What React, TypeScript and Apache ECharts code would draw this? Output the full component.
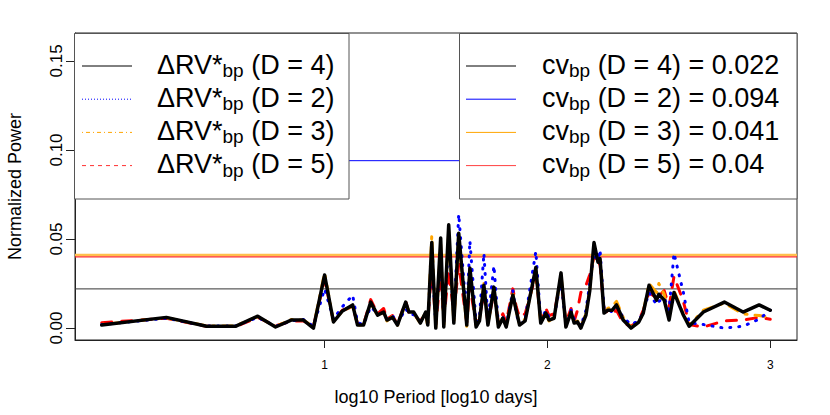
import React, { useEffect, useRef } from "react";
import * as echarts from "echarts";

const FONT = '"Liberation Sans", Arial, Helvetica, sans-serif';

// log10 period grid (x values)
const logPeriod = [
  0.0, 0.29, 0.47, 0.6, 0.7, 0.78, 0.85, 0.905, 0.95, 1.0,
  1.04, 1.08, 1.126, 1.148, 1.175, 1.207, 1.238, 1.265, 1.28, 1.305,
  1.327, 1.364, 1.378, 1.4, 1.43, 1.454, 1.463, 1.481, 1.499, 1.521,
  1.535, 1.557, 1.58, 1.602, 1.638, 1.652, 1.68, 1.695, 1.715, 1.733,
  1.76, 1.78, 1.8, 1.815, 1.845, 1.86, 1.875, 1.9, 1.948, 1.97,
  1.993, 2.007, 2.03, 2.061, 2.083, 2.106, 2.12, 2.135, 2.15, 2.173,
  2.19, 2.209, 2.227, 2.236, 2.254, 2.27, 2.29, 2.31, 2.34, 2.375,
  2.41, 2.43, 2.456, 2.49, 2.5, 2.524, 2.546, 2.568, 2.61, 2.636,
  2.7, 2.794, 2.878, 2.95, 3.0,
];

// Normalized power, D = 4 (black solid)
const powerD4 = [
  0.0017, 0.006, 0.001, 0.001, 0.0067, 0.0006, 0.0045, 0.0045, 0.0, 0.0298,
  0.0034, 0.0096, 0.013, 0.0017, 0.0017, 0.0146, 0.0073, 0.009, 0.0045, 0.006,
  0.0017, 0.0146, 0.009, 0.009, 0.0028, 0.009, 0.0017, 0.048, 0.0, 0.0506,
  0.0006, 0.058, 0.0028, 0.0533, 0.0017, 0.0337, 0.0006, 0.004, 0.024, 0.0017,
  0.023, 0.0006, 0.0056, 0.0006, 0.0185, 0.01, 0.0017, 0.004, 0.034, 0.0028,
  0.0084, 0.0045, 0.0055, 0.031, 0.0006, 0.009, 0.0028, 0.0035, 0.0, 0.0073,
  0.021, 0.048, 0.037, 0.039, 0.0084, 0.01, 0.01, 0.013, 0.0045, 0.0,
  0.0034, 0.0084, 0.024, 0.0157, 0.019, 0.0157, 0.0045, 0.02, 0.0073, 0.001,
  0.009, 0.0146, 0.009, 0.013, 0.01,
];

// D = 2 (blue dotted)
const powerD2 = [
  0.002, 0.0055, 0.0012, 0.0012, 0.006, 0.001, 0.004, 0.0048, 0.001, 0.022,
  0.005, 0.012, 0.0185, 0.003, 0.002, 0.012, 0.008, 0.0085, 0.005, 0.007,
  0.0025, 0.011, 0.008, 0.0075, 0.004, 0.008, 0.003, 0.038, 0.002, 0.042,
  0.003, 0.05, 0.006, 0.064, 0.005, 0.049, 0.003, 0.006, 0.042, 0.004,
  0.035, 0.002, 0.006, 0.001, 0.021, 0.008, 0.002, 0.005, 0.043, 0.004,
  0.01, 0.006, 0.006, 0.027, 0.001, 0.01, 0.005, 0.004, 0.001, 0.01,
  0.025, 0.042, 0.038, 0.044, 0.011, 0.011, 0.009, 0.012, 0.006, 0.002,
  0.004, 0.009, 0.02, 0.013, 0.015, 0.017, 0.01, 0.042, 0.02, 0.003,
  0.002, 0.0, 0.001, 0.005, 0.01,
];

// D = 3 (orange dot-dash)
const powerD3 = [
  0.002, 0.0058, 0.0012, 0.0012, 0.0065, 0.0008, 0.0048, 0.0046, 0.0005, 0.031,
  0.0035, 0.0095, 0.0125, 0.0015, 0.002, 0.014, 0.007, 0.0085, 0.004, 0.0065,
  0.0015, 0.014, 0.0095, 0.0085, 0.0025, 0.0095, 0.0005, 0.052, 0.0005, 0.047,
  0.001, 0.054, 0.003, 0.05, 0.001, 0.033, 0.001, 0.005, 0.025, 0.002,
  0.022, 0.001, 0.006, 0.001, 0.019, 0.0095, 0.002, 0.005, 0.033, 0.003,
  0.008, 0.004, 0.006, 0.03, 0.001, 0.0085, 0.003, 0.004, 0.001, 0.008,
  0.022, 0.044, 0.038, 0.042, 0.009, 0.011, 0.012, 0.015, 0.006, 0.0005,
  0.003, 0.009, 0.025, 0.02, 0.025, 0.019, 0.006, 0.021, 0.008, 0.0015,
  0.01, 0.014, 0.008, 0.007, 0.006,
];

// D = 5 (red dashed)
const powerD5 = [
  0.003, 0.0055, 0.001, 0.0008, 0.006, 0.0012, 0.004, 0.004, 0.001, 0.027,
  0.004, 0.01, 0.012, 0.0025, 0.002, 0.016, 0.008, 0.011, 0.005, 0.007,
  0.002, 0.015, 0.0085, 0.008, 0.0035, 0.0095, 0.003, 0.035, 0.002, 0.03,
  0.004, 0.033, 0.008, 0.036, 0.003, 0.024, 0.002, 0.006, 0.02, 0.003,
  0.02, 0.003, 0.008, 0.003, 0.022, 0.012, 0.006, 0.008, 0.03, 0.005,
  0.011, 0.007, 0.008, 0.028, 0.003, 0.011, 0.004, 0.01, 0.02, 0.024,
  0.03, 0.04, 0.035, 0.036, 0.01, 0.009, 0.008, 0.01, 0.003, 0.001,
  0.004, 0.01, 0.02, 0.017, 0.018, 0.021, 0.012, 0.029, 0.015, 0.002,
  0.0006, 0.004, 0.0045, 0.006, 0.005,
];

// threshold (cv) lines
const cvLabels = ["4", "2", "3", "5"];
const cvValues = [0.022, 0.094, 0.041, 0.04];
const cvTexts = ["0.022", "0.094", "0.041", "0.04"];
const cvColors = ["#333333", "#0000ff", "#ffbf4d", "#ff2a2a"];
const cvWidths = [1, 1, 2.5, 1.2];

const xTicks = [1, 2, 3];
const yTicks = [0, 0.05, 0.1, 0.15];
const X_MIN = -0.12;
const X_MAX = 3.12;

const seriesDefs = [
  { d: "5", ys: powerD5, color: "#ff0000", width: 3, dash: [10, 10] },
  { d: "3", ys: powerD3, color: "#ffa500", width: 3, dash: [2, 8, 10, 8] },
  { d: "2", ys: powerD2, color: "#0000ff", width: 3, dash: [1, 8] },
  { d: "4", ys: powerD4, color: "#000000", width: 3.5, dash: "solid" },
];

const legendLeft = [
  { d: "4", color: "#000000", dash: null as any },
  { d: "2", color: "#0000ff", dash: [1, 2] },
  { d: "3", color: "#ffa500", dash: [1, 3, 4, 3] },
  { d: "5", color: "#ff3030", dash: [4, 4] },
];
const legendRightColors = ["#000000", "#0000ff", "#ffa500", "#ff4040"];

export default function App() {
  const ref = useRef<HTMLDivElement>(null);
  useEffect(() => {
    if (!ref.current) return;
    const chart = echarts.init(ref.current, null, { renderer: "svg" });

    const rowY = (i: number) => 66 + 33.2 * i;
    const textY = (i: number) => 64.5 + 33.2 * i;
    const rich = {
      m: { fontSize: 27, fontFamily: FONT, fill: "#000" },
      s: { fontSize: 19, fontFamily: FONT, fill: "#000", padding: [12, 0, 0, 0] },
    };

    const graphics: any[] = [
      {
        type: "rect",
        shape: { x: 74.5, y: 33.5, width: 274.5, height: 165.5 },
        style: { fill: "#fff", stroke: "#555", lineWidth: 1 },
        z: 100,
      },
      {
        type: "rect",
        shape: { x: 459.5, y: 33.5, width: 337.5, height: 165.5 },
        style: { fill: "#fff", stroke: "#555", lineWidth: 1 },
        z: 100,
      },
    ];
    legendLeft.forEach((l, i) => {
      graphics.push({
        type: "line",
        shape: { x1: 82, y1: rowY(i), x2: 132, y2: rowY(i) },
        style: { stroke: l.color, lineWidth: 1, lineDash: l.dash },
        z: 101,
      });
      graphics.push({
        type: "text",
        x: 157,
        y: textY(i),
        style: {
          text: `{m|ΔRV*}{s|bp}{m| (D = ${l.d})}`,
          rich,
          verticalAlign: "middle",
          align: "left",
        },
        z: 101,
      });
    });
    cvLabels.forEach((d, i) => {
      graphics.push({
        type: "line",
        shape: { x1: 466, y1: rowY(i), x2: 516, y2: rowY(i) },
        style: { stroke: legendRightColors[i], lineWidth: 1 },
        z: 101,
      });
      graphics.push({
        type: "text",
        x: 542,
        y: textY(i),
        style: {
          text: `{m|cv}{s|bp}{m| (D = ${d}) = ${cvTexts[i]}}`,
          rich,
          verticalAlign: "middle",
          align: "left",
        },
        z: 101,
      });
    });

    const thresholdSeries = cvValues.map((v, i) => ({
      type: "line",
      name: `cv D = ${cvLabels[i]}`,
      data: [
        [X_MIN, v],
        [X_MAX, v],
      ],
      showSymbol: false,
      symbol: "none",
      silent: true,
      z: 1,
      lineStyle: { color: cvColors[i], width: cvWidths[i], type: "solid" },
    }));

    const option: any = {
      animation: false,
      grid: {
        left: 75,
        right: 33,
        top: 33,
        bottom: 75,
        show: true,
        borderColor: "#222",
        borderWidth: 1,
        backgroundColor: "transparent",
        containLabel: false,
        outerBoundsMode: "none",
      },
      xAxis: {
        type: "value",
        min: X_MIN,
        max: X_MAX,
        splitLine: { show: false },
        axisLine: { show: true, onZero: false, lineStyle: { color: "#222", width: 1 } },
        axisTick: { show: true, customValues: xTicks, length: 8, lineStyle: { color: "#222" } },
        axisLabel: {
          customValues: xTicks,
          fontSize: 12,
          color: "#000",
          fontFamily: FONT,
          margin: 19,
        },
        name: "log10 Period [log10 days]",
        nameLocation: "middle",
        nameGap: 48,
        nameTextStyle: { fontSize: 18, color: "#000", fontFamily: FONT },
      },
      yAxis: {
        type: "value",
        min: -0.0067,
        max: 0.1657,
        splitLine: { show: false },
        axisLine: { show: true, onZero: false, lineStyle: { color: "#222", width: 1 } },
        axisTick: { show: true, customValues: yTicks, length: 9, lineStyle: { color: "#222" } },
        axisLabel: {
          customValues: yTicks,
          formatter: (v: number) => v.toFixed(2),
          rotate: 90,
          fontSize: 17,
          color: "#000",
          fontFamily: FONT,
          margin: 10,
        },
        name: "Normalized Power",
        nameLocation: "middle",
        nameRotate: 90,
        nameGap: 51,
        nameTextStyle: { fontSize: 18, color: "#000", fontFamily: FONT },
      },
      graphic: graphics,
      series: [
        ...thresholdSeries,
        ...seriesDefs.map((s, k) => ({
          type: "line",
          name: `D = ${s.d}`,
          data: logPeriod.map((x, i) => [x, s.ys[i]]),
          showSymbol: false,
          symbol: "none",
          z: 2 + k,
          silent: true,
          lineStyle: {
            color: s.color,
            width: s.width,
            type: s.dash,
            cap: "round",
            join: "round",
          },
        })),
      ],
    };
    chart.setOption(option);
    return () => chart.dispose();
  }, []);

  return (
    <div
      ref={ref}
      style={{ position: "fixed", left: 0, top: 0, width: 830, height: 415, background: "#fff" }}
    />
  );
}
